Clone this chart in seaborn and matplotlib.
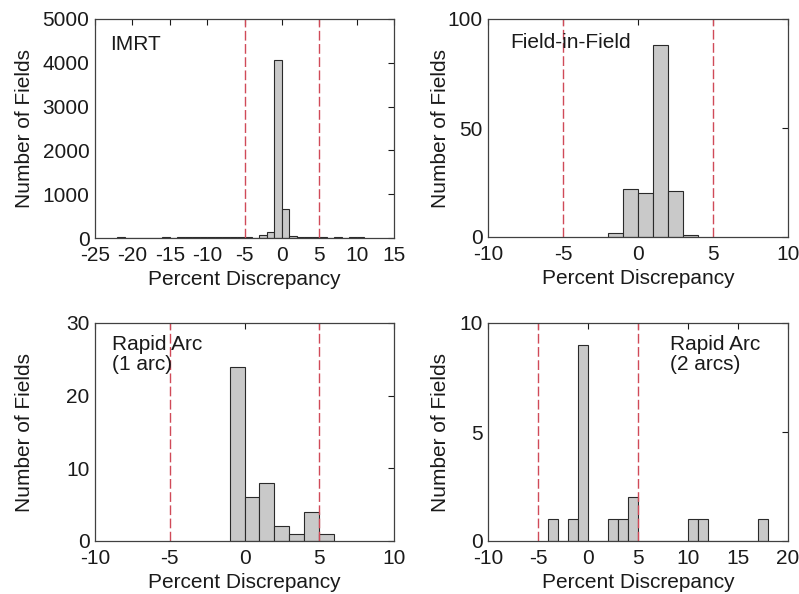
import numpy as np
import pandas as pd
import matplotlib
matplotlib.use("Agg")
import matplotlib.pyplot as plt
import seaborn as sns

# ---------------- data (bin left edges, counts; bin width = 1 %) ----------------
imrt_left = [-22, -16, -14, -13, -12, -11, -10, -9, -8, -7, -6, -5,
             -3, -2, -1, 0, 1, 2, 3, 4, 5, 7, 9, 10]
imrt_counts = [15, 15, 12, 12, 12, 12, 12, 12, 12, 12, 12, 12,
               70, 137, 4070, 664, 38, 15, 15, 15, 15, 15, 15, 15]

fif_left = [-2, -1, 0, 1, 2, 3]
fif_counts = [2, 22, 20, 88, 21, 1]

ra1_left = [-1, 0, 1, 2, 3, 4, 5]
ra1_counts = [24, 6, 8, 2, 1, 4, 1]

ra2_left = [-4, -2, -1, 2, 3, 4, 10, 11, 17]
ra2_counts = [1, 1, 9, 1, 1, 2, 1, 1, 1]

panel_labels = ["IMRT", "Field-in-Field", "Rapid Arc\n(1 arc)", "Rapid Arc\n(2 arcs)"]
xlims = [(-25, 15), (-10, 10), (-10, 10), (-10, 20)]
ylims = [(0, 5000), (0, 100), (0, 30), (0, 10)]
xticks = [list(range(-25, 16, 5)), [-10, -5, 0, 5, 10], [-10, -5, 0, 5, 10],
          [-10, -5, 0, 5, 10, 15, 20]]
yticks = [[0, 1000, 2000, 3000, 4000, 5000], [0, 50, 100], [0, 10, 20, 30], [0, 5, 10]]
limits = [-5, 5]
xlabel = "Percent Discrepancy"
ylabel = "Number of Fields"

# ---------------- style ----------------
sns.set_theme(style="white")
plt.rcParams["font.family"] = ["Liberation Sans", "DejaVu Sans"]
plt.rcParams["axes.unicode_minus"] = False
FS = 15
W, H = 799, 594
fig = plt.figure(figsize=(W / 100, H / 100), dpi=100)

# axes positions in pixels: (left, top, right, bottom)
boxes = [(95, 19, 394, 238), (488, 19, 788, 237), (95, 323, 394, 541), (488, 323, 788, 541)]
text_pos = [(0.05, 0.925), (0.073, 0.935), (0.056, 0.945), (0.607, 0.945)]
ylabel_x = [-0.237, -0.157, -0.237, -0.157]

datasets = [(imrt_left, imrt_counts), (fif_left, fif_counts),
            (ra1_left, ra1_counts), (ra2_left, ra2_counts)]

for i, ((lefts, counts), box) in enumerate(zip(datasets, boxes)):
    l, t, r, b = box
    ax = fig.add_axes([l / W, 1 - b / H, (r - l) / W, (b - t) / H])
    df = pd.DataFrame({"x": [v + 0.5 for v in lefts], "n": counts})
    edges = [float(e) for e in range(min(lefts), max(lefts) + 2)]
    sns.histplot(data=df, x="x", weights="n", bins=edges, ax=ax,
                 color="#c9c9c9", edgecolor="#2a2a2a", linewidth=0.8, alpha=1.0)
    for v in limits:
        ax.axvline(v, color="#d04a58", lw=1.0, ls=(0, (7, 2.5)), zorder=1)
    ax.set_xlim(*xlims[i])
    ax.set_ylim(*ylims[i])
    ax.set_xticks(xticks[i])
    ax.set_yticks(yticks[i])
    ax.set_xlabel(xlabel, fontsize=FS, color="#1a1a1a", labelpad=3)
    ax.set_ylabel(ylabel, fontsize=FS, color="#1a1a1a")
    ax.yaxis.label.set_va("center")
    ax.yaxis.set_label_coords(ylabel_x[i], 0.5)
    ax.tick_params(direction="in", length=4, width=0.8, top=True, right=True,
                   labelsize=FS, colors="#1a1a1a", pad=4)
    ax.tick_params(axis="x", pad=6)
    for s in ax.spines.values():
        s.set_color("#404040")
        s.set_linewidth(0.9)
    ax.text(text_pos[i][0], text_pos[i][1], panel_labels[i], transform=ax.transAxes,
            ha="left", va="top", fontsize=FS, color="#1a1a1a", linespacing=1.1)

fig.savefig("out.png", dpi=100)
